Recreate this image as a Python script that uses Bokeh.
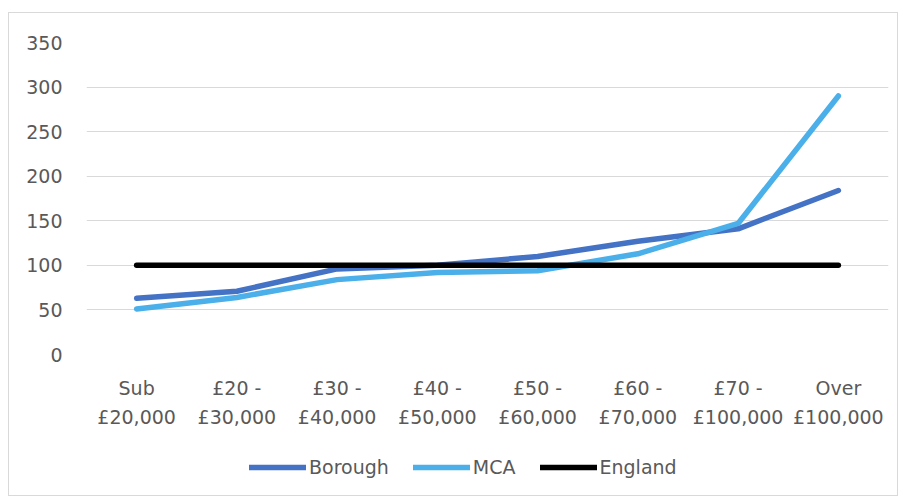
from bokeh.plotting import figure
from bokeh.models import Legend, LegendItem, FactorRange, SingleIntervalTicker
from bokeh.layouts import column
from bokeh.embed import file_html
from bokeh.resources import INLINE

categories = ["Sub\n£20,000", "£20 -\n£30,000", "£30 -\n£40,000", "£40 -\n£50,000",
              "£50 -\n£60,000", "£60 -\n£70,000", "£70 -\n£100,000", "Over\n£100,000"]
borough = [63, 71, 96, 100, 110, 127, 141, 184]
mca = [51, 64, 84, 92, 94, 113, 147, 290]
england = [100, 100, 100, 100, 100, 100, 100, 100]
series_names = ["Borough", "MCA", "England"]
series_colors = ["#4472C4", "#4BAFEA", "#000000"]

FONT = "DejaVu Sans"
FS = "19px"
TXT = "#595959"
LW = 5.5

p = figure(x_range=FactorRange(*categories), y_range=(0, 350),
           frame_width=802, frame_height=312, output_backend="svg", toolbar_location=None,
           min_border_left=77, min_border_right=9, min_border_top=29, min_border_bottom=84)
p.outline_line_color = None
p.background_fill_color = "white"

for vals, col in zip([borough, mca, england], series_colors):
    p.line(categories, vals, line_color=col, line_width=LW, line_cap="round", line_join="round")

p.yaxis.ticker = SingleIntervalTicker(interval=50)
p.ygrid.grid_line_color = "#d9d9d9"
p.ygrid.grid_line_width = 1
p.xgrid.grid_line_color = None

for ax in (p.xaxis[0], p.yaxis[0]):
    ax.axis_line_color = None
    ax.major_tick_line_color = None
    ax.minor_tick_line_color = None
    ax.major_label_text_font = FONT
    ax.major_label_text_font_size = FS
    ax.major_label_text_color = TXT
p.yaxis.major_label_standoff = 18
p.xaxis.major_label_standoff = 16
p.xaxis.major_label_text_line_height = 1.33

# legend strip below the chart (its frame is aligned with the chart frame)
lf = figure(x_range=(0, 1), y_range=(0, 1), width=888, height=57,
            x_axis_type=None, y_axis_type=None, output_backend="svg", toolbar_location=None,
            min_border=0)
lf.outline_line_color = None
items = []
for name, col in zip(series_names, series_colors):
    # legend-only proxy lines, kept outside the visible range
    r = lf.line([5, 6], [5, 6], line_color=col, line_width=LW, line_cap="round")
    items.append(LegendItem(label=name, renderers=[r]))
legend = Legend(items=items, orientation="horizontal", location=(163, 17),
                glyph_width=57, glyph_height=20, label_standoff=3, spacing=24,
                label_text_font=FONT, label_text_font_size=FS, label_text_color=TXT,
                border_line_color=None, background_fill_alpha=0, padding=0, margin=0)
lf.add_layout(legend, "center")

layout = column(p, lf, spacing=0)
layout.margin = (12, 0, 0, 8)
layout.styles = {"border": "1px solid #d9d9d9"}

open("out.html", "w").write(file_html(layout, INLINE))
